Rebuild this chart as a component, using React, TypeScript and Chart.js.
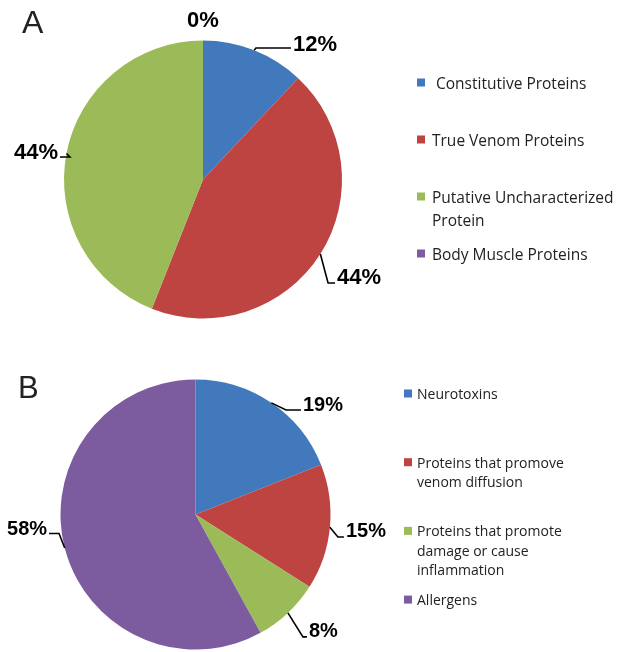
import React, { useEffect, useRef } from "react";
import { Chart, registerables } from "chart.js";

Chart.register(...registerables);

// ---- Data ----
const categoriesA: (string | string[])[] = [
  " Constitutive Proteins",
  "True Venom Proteins",
  ["Putative Uncharacterized", "Protein"],
  "Body Muscle Proteins",
];
const valuesA = [12, 44, 44, 0];

const categoriesB: (string | string[])[] = [
  "Neurotoxins",
  ["Proteins that promove", "venom diffusion"],
  ["Proteins that promote", "damage or cause", "inflammation"],
  "Allergens",
];
const valuesB = [19, 15, 8, 58];

const sliceColors = ["#4279BD", "#BE4441", "#9BBB59", "#7C5C9F"];
const panelTitles = ["A", "B"];

// ---- Label placement (styling, relative to the arc anchor point) ----
type Placement = { dx: number; dy: number; side: "left" | "right" | "center"; h: number; ly: number };

const placementA: Placement[] = [
  { dx: 38.8, dy: -7.3, side: "right", h: 35, ly: 5 },
  { dx: 16.7, dy: 22, side: "right", h: 7, ly: 7 },
  { dx: -8.5, dy: -2.5, side: "left", h: 10, ly: 6 },
  { dx: 0, dy: -21.5, side: "center", h: 0, ly: 0 },
];
const placementB: Placement[] = [
  { dx: 31.6, dy: 1.2, side: "right", h: 15, ly: 6 },
  { dx: 16, dy: 2.8, side: "right", h: 6, ly: 7 },
  { dx: 21, dy: 17, side: "right", h: 4, ly: 7 },
  { dx: -17.7, dy: -20.6, side: "left", h: 10, ly: 6 },
];

const annotatePlugin = {
  id: "annotate",
  afterDraw(chart: any, _args: any, opts: any) {
    const ctx: CanvasRenderingContext2D = chart.ctx;
    const meta = chart.getDatasetMeta(0);
    const ds = chart.data.datasets[0];
    const data = ds.data as number[];
    const total = data.reduce((a, b) => a + b, 0);
    ctx.save();

    // Panel title
    ctx.font = `${opts.titleSize}px "Liberation Sans", Arial, sans-serif`;
    ctx.fillStyle = "#222";
    ctx.textAlign = "left";
    ctx.textBaseline = "alphabetic";
    ctx.fillText(opts.title, opts.titleX, opts.titleY);

    // Value labels with leader lines
    meta.data.forEach((arc: any, i: number) => {
      const p = arc.getProps(["x", "y", "startAngle", "endAngle", "outerRadius"], true);
      const mid = (p.startAngle + p.endAngle) / 2;
      const ax = p.x + Math.cos(mid) * p.outerRadius;
      const ay = p.y + Math.sin(mid) * p.outerRadius;
      const pl: Placement = opts.placement[i];
      const tx = ax + pl.dx;
      const ty = ay + pl.dy;
      const text = Math.round((data[i] / total) * 100) + "%";
      ctx.font = `bold ${opts.valueFont}px "Liberation Sans", Arial, sans-serif`;
      ctx.fillStyle = "#000";
      ctx.textBaseline = "alphabetic";
      ctx.textAlign = pl.side === "right" ? "left" : pl.side === "left" ? "right" : "center";
      ctx.fillText(text, tx, ty + (opts.valueFont * 0.716) / 2);
      if (pl.h > 0) {
        const dir = pl.side === "right" ? 1 : -1;
        const ex = tx - dir * 2;
        const ey = ty + pl.ly;
        ctx.beginPath();
        ctx.moveTo(ax, ay);
        ctx.lineTo(ex - dir * pl.h, ey);
        ctx.lineTo(ex, ey);
        ctx.strokeStyle = "#000";
        ctx.lineWidth = 1.6;
        ctx.stroke();
      }
    });

    // Legend
    const labels = chart.data.labels as (string | string[])[];
    const colors = ds.backgroundColor as string[];
    labels.forEach((lab, i) => {
      const lines = Array.isArray(lab) ? lab : [lab];
      const y = opts.legendY + i * opts.legendSpacing;
      ctx.fillStyle = colors[i];
      ctx.fillRect(opts.legendBoxX, y - 4.5, 8, 8);
      ctx.font = `${opts.legendFont}px "Open Sans", sans-serif`;
      ctx.fillStyle = "#222";
      ctx.textAlign = "left";
      ctx.textBaseline = "alphabetic";
      lines.forEach((ln, k) => {
        ctx.fillText(ln, opts.legendTextX, y + k * opts.legendLine + (opts.legendFont * 0.714) / 2);
      });
    });

    ctx.restore();
  },
};

type PanelProps = {
  labels: (string | string[])[];
  values: number[];
  radius: number;
  padding: { left: number; right: number; top: number; bottom: number };
  annotate: any;
};

function PiePanel({ labels, values, radius, padding, annotate }: PanelProps) {
  const ref = useRef<HTMLCanvasElement>(null);
  useEffect(() => {
    const chart = new Chart(ref.current as HTMLCanvasElement, {
      type: "pie",
      data: {
        labels: labels as any,
        datasets: [
          {
            data: values,
            backgroundColor: sliceColors,
            borderWidth: 0,
            radius,
          } as any,
        ],
      },
      options: {
        responsive: false,
        animation: false,
        events: [],
        layout: { padding },
        plugins: {
          legend: { display: false },
          tooltip: { enabled: false },
          annotate,
        } as any,
      },
      plugins: [annotatePlugin as any],
    });
    return () => chart.destroy();
  }, []);
  return (
    <canvas
      ref={ref}
      width={620}
      height={652}
      style={{ position: "absolute", left: 0, top: 0, width: 620, height: 652 }}
    />
  );
}

export default function App() {
  return (
    <div style={{ position: "absolute", left: 0, top: 0, width: 620, height: 652, background: "#fff" }}>
      <PiePanel
        labels={categoriesA}
        values={valuesA}
        radius={139}
        padding={{ left: 53, right: 267, top: 29.5, bottom: 322.5 }}
        annotate={{
          title: panelTitles[0],
          titleX: 22,
          titleY: 33,
          titleSize: 32,
          placement: placementA,
          valueFont: 22,
          legendY: 83,
          legendSpacing: 57,
          legendBoxX: 417,
          legendTextX: 432,
          legendFont: 15.5,
          legendLine: 23,
        }}
      />
      <PiePanel
        labels={categoriesB}
        values={valuesB}
        radius={135}
        padding={{ left: 60.5, right: 289.5, top: 379.5, bottom: 2.5 }}
        annotate={{
          title: panelTitles[1],
          titleX: 18,
          titleY: 398,
          titleSize: 31,
          placement: placementB,
          valueFont: 20,
          legendY: 394,
          legendSpacing: 68.7,
          legendBoxX: 404,
          legendTextX: 417,
          legendFont: 14,
          legendLine: 19.5,
        }}
      />
    </div>
  );
}
